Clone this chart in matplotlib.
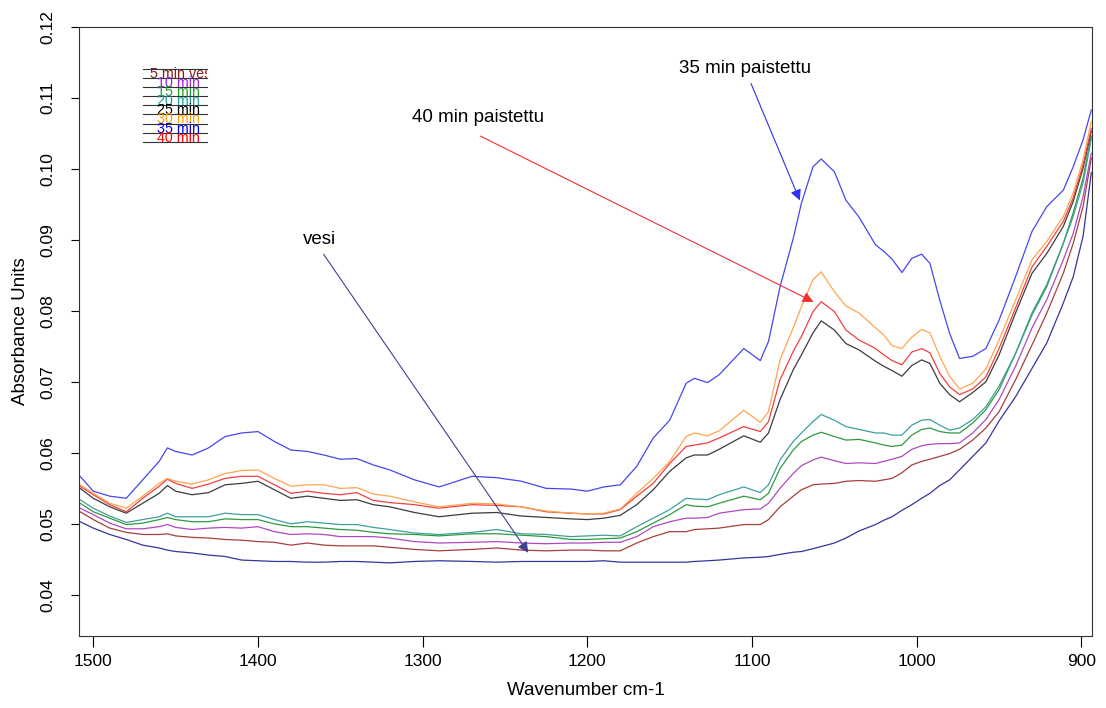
import matplotlib
matplotlib.use("Agg")

import matplotlib.pyplot as plt
from matplotlib.transforms import Bbox, TransformedBbox

plt.rcParams["font.family"] = ["Liberation Sans", "DejaVu Sans"]

# ---------------------------------------------------------------------------
# Spectra (absorbance vs. wavenumber)
# ---------------------------------------------------------------------------
wavenumber = [1508, 1500, 1490, 1480, 1470, 1460, 1455, 1450, 1440, 1430, 1420, 1410, 1400, 1390, 1380, 1370, 1360, 1350, 1340,
              1330, 1320, 1305, 1290, 1270, 1255, 1240, 1225, 1210, 1200, 1190, 1180,
              1170, 1160, 1150, 1140, 1135, 1127, 1120, 1105, 1095, 1090, 1083, 1075, 1070, 1063, 1058, 1050, 1043, 1035,
              1025, 1020, 1015, 1009, 1003, 997, 992, 986, 980, 974, 966, 958, 950, 940, 930, 921, 911, 905, 899, 894]

vesi = [0.0503, 0.0494, 0.0485, 0.0478, 0.0470, 0.0466, 0.0463, 0.0461, 0.0459, 0.0456, 0.0454, 0.0449, 0.0448, 0.0447, 0.0447, 0.0446, 0.0446, 0.0447, 0.0447,
        0.0446, 0.0445, 0.0447, 0.0448, 0.0447, 0.0446, 0.0447, 0.0447, 0.0447, 0.0447, 0.0448, 0.0446,
        0.0446, 0.0446, 0.0446, 0.0446, 0.0447, 0.0448, 0.0449, 0.0452, 0.0453, 0.0454, 0.0457, 0.0460, 0.0461, 0.0465, 0.0468, 0.0473, 0.0480, 0.0490,
        0.0499, 0.0505, 0.0510, 0.0519, 0.0527, 0.0536, 0.0543, 0.0554, 0.0562, 0.0576, 0.0595, 0.0614, 0.0645, 0.0679, 0.0719, 0.0755, 0.0811, 0.0848, 0.0905, 0.0995]

min05 = [0.0517, 0.0506, 0.0494, 0.0488, 0.0485, 0.0485, 0.0486, 0.0483, 0.0481, 0.0480, 0.0478, 0.0477, 0.0475, 0.0474, 0.0470, 0.0473, 0.0470, 0.0469, 0.0469,
         0.0469, 0.0467, 0.0464, 0.0462, 0.0464, 0.0466, 0.0463, 0.0462, 0.0463, 0.0463, 0.0462, 0.0462,
         0.0473, 0.0482, 0.0489, 0.0489, 0.0492, 0.0493, 0.0494, 0.0499, 0.0499, 0.0506, 0.0524, 0.0539, 0.0548, 0.0555, 0.0556, 0.0557, 0.0560, 0.0561,
         0.0560, 0.0562, 0.0564, 0.0572, 0.0583, 0.0588, 0.0591, 0.0595, 0.0599, 0.0605, 0.0618, 0.0635, 0.0658, 0.0703, 0.0752, 0.0797, 0.0853, 0.0895, 0.0947, 0.1015]

min10 = [0.0522, 0.0513, 0.0501, 0.0493, 0.0493, 0.0496, 0.0499, 0.0495, 0.0492, 0.0494, 0.0495, 0.0494, 0.0496, 0.0489, 0.0485, 0.0486, 0.0485, 0.0482, 0.0482,
         0.0482, 0.0480, 0.0475, 0.0473, 0.0474, 0.0475, 0.0473, 0.0472, 0.0473, 0.0473, 0.0474, 0.0474,
         0.0482, 0.0496, 0.0503, 0.0508, 0.0508, 0.0509, 0.0515, 0.0520, 0.0521, 0.0529, 0.0550, 0.0571, 0.0582, 0.0590, 0.0594, 0.0589, 0.0585, 0.0586,
         0.0585, 0.0588, 0.0591, 0.0595, 0.0605, 0.0610, 0.0612, 0.0613, 0.0613, 0.0614, 0.0628, 0.0647, 0.0675, 0.0722, 0.0776, 0.0816, 0.0872, 0.0909, 0.0961, 0.1022]

min15 = [0.0529, 0.0517, 0.0508, 0.0499, 0.0501, 0.0506, 0.0509, 0.0506, 0.0503, 0.0503, 0.0507, 0.0506, 0.0506, 0.0500, 0.0496, 0.0496, 0.0494, 0.0492, 0.0491,
         0.0488, 0.0486, 0.0485, 0.0483, 0.0486, 0.0486, 0.0484, 0.0482, 0.0478, 0.0478, 0.0479, 0.0480,
         0.0489, 0.0501, 0.0513, 0.0527, 0.0525, 0.0524, 0.0529, 0.0539, 0.0534, 0.0543, 0.0578, 0.0604, 0.0616, 0.0625, 0.0629, 0.0623, 0.0618, 0.0619,
         0.0614, 0.0611, 0.0609, 0.0611, 0.0625, 0.0633, 0.0635, 0.0630, 0.0628, 0.0628, 0.0642, 0.0661, 0.0689, 0.0740, 0.0797, 0.0837, 0.0895, 0.0938, 0.0987, 0.1046]

min20 = [0.0534, 0.0522, 0.0511, 0.0502, 0.0506, 0.0510, 0.0515, 0.0510, 0.0510, 0.0510, 0.0515, 0.0513, 0.0513, 0.0506, 0.0500, 0.0503, 0.0501, 0.0499, 0.0499,
         0.0495, 0.0492, 0.0487, 0.0485, 0.0488, 0.0492, 0.0486, 0.0485, 0.0482, 0.0483, 0.0484, 0.0483,
         0.0496, 0.0508, 0.0520, 0.0536, 0.0535, 0.0534, 0.0541, 0.0552, 0.0544, 0.0555, 0.0590, 0.0616, 0.0628, 0.0644, 0.0654, 0.0646, 0.0637, 0.0633,
         0.0628, 0.0628, 0.0625, 0.0625, 0.0639, 0.0646, 0.0647, 0.0639, 0.0632, 0.0635, 0.0647, 0.0665, 0.0694, 0.0740, 0.0794, 0.0834, 0.0895, 0.0933, 0.0980, 0.1043]

min25 = [0.0550, 0.0536, 0.0524, 0.0515, 0.0529, 0.0543, 0.0554, 0.0546, 0.0541, 0.0544, 0.0555, 0.0557, 0.0560, 0.0548, 0.0536, 0.0539, 0.0536, 0.0533, 0.0534,
         0.0527, 0.0524, 0.0516, 0.0510, 0.0515, 0.0516, 0.0511, 0.0509, 0.0507, 0.0506, 0.0508, 0.0512,
         0.0527, 0.0548, 0.0574, 0.0593, 0.0597, 0.0597, 0.0605, 0.0624, 0.0615, 0.0628, 0.0675, 0.0717, 0.0738, 0.0769, 0.0786, 0.0773, 0.0754, 0.0745,
         0.0729, 0.0722, 0.0716, 0.0708, 0.0723, 0.0731, 0.0726, 0.0698, 0.0682, 0.0672, 0.0685, 0.0700, 0.0738, 0.0797, 0.0853, 0.0881, 0.0919, 0.0954, 0.1001, 0.1053]

min30 = [0.0555, 0.0543, 0.0529, 0.0522, 0.0539, 0.0557, 0.0564, 0.0560, 0.0556, 0.0562, 0.0571, 0.0575, 0.0576, 0.0564, 0.0553, 0.0555, 0.0555, 0.0550, 0.0551,
         0.0542, 0.0539, 0.0531, 0.0524, 0.0529, 0.0528, 0.0524, 0.0518, 0.0515, 0.0514, 0.0515, 0.0521,
         0.0543, 0.0564, 0.0588, 0.0623, 0.0628, 0.0624, 0.0631, 0.0660, 0.0643, 0.0658, 0.0731, 0.0776, 0.0806, 0.0844, 0.0855, 0.0827, 0.0807, 0.0797,
         0.0776, 0.0766, 0.0751, 0.0747, 0.0763, 0.0774, 0.0769, 0.0736, 0.0708, 0.0690, 0.0698, 0.0718, 0.0759, 0.0815, 0.0872, 0.0898, 0.0933, 0.0966, 0.1013, 0.1067]

min35 = [0.0567, 0.0546, 0.0539, 0.0536, 0.0562, 0.0588, 0.0607, 0.0602, 0.0597, 0.0607, 0.0623, 0.0628, 0.0630, 0.0616, 0.0604, 0.0602, 0.0597, 0.0591, 0.0592,
         0.0583, 0.0576, 0.0562, 0.0552, 0.0567, 0.0565, 0.0560, 0.0550, 0.0549, 0.0546, 0.0552, 0.0555,
         0.0581, 0.0621, 0.0646, 0.0698, 0.0705, 0.0699, 0.0710, 0.0747, 0.0730, 0.0757, 0.0834, 0.0902, 0.0952, 0.1003, 0.1014, 0.0996, 0.0956, 0.0932,
         0.0893, 0.0884, 0.0873, 0.0854, 0.0874, 0.0880, 0.0867, 0.0815, 0.0768, 0.0733, 0.0736, 0.0747, 0.0787, 0.0848, 0.0912, 0.0947, 0.0970, 0.1003, 0.1041, 0.1083]

min40 = [0.0553, 0.0541, 0.0527, 0.0517, 0.0536, 0.0553, 0.0563, 0.0557, 0.0550, 0.0556, 0.0564, 0.0567, 0.0567, 0.0555, 0.0543, 0.0546, 0.0543, 0.0541, 0.0544,
         0.0533, 0.0530, 0.0527, 0.0522, 0.0527, 0.0526, 0.0524, 0.0517, 0.0515, 0.0514, 0.0514, 0.0520,
         0.0539, 0.0557, 0.0585, 0.0609, 0.0611, 0.0614, 0.0621, 0.0637, 0.0630, 0.0644, 0.0703, 0.0743, 0.0764, 0.0799, 0.0813, 0.0799, 0.0773, 0.0759,
         0.0747, 0.0738, 0.0730, 0.0724, 0.0742, 0.0747, 0.0741, 0.0712, 0.0693, 0.0682, 0.0690, 0.0707, 0.0747, 0.0804, 0.0862, 0.0891, 0.0926, 0.0959, 0.1006, 0.1057]

legend_labels = ["5 min vesi", "10 min", "15 min", "20 min", "25 min", "30 min", "35 min", "40 min"]
legend_colors = ["#8b1a1a", "#a020f0", "#22a022", "#20a0a0", "#000000", "#ffa500", "#0000ff", "#ff0000"]

y_ticks = [0.04, 0.05, 0.06, 0.07, 0.08, 0.09, 0.10, 0.11, 0.12]
x_ticks = [1500, 1400, 1300, 1200, 1100, 1000, 900]

# ---------------------------------------------------------------------------
# Figure
# ---------------------------------------------------------------------------
fig = plt.figure(figsize=(11.06, 7.08), dpi=100)
ax = fig.add_axes([0.0714, 0.1017, 0.9159, 0.8602])

curves = [
    (vesi,  "#35359a"),
    (min05, "#a5403a"),
    (min10, "#b048c0"),
    (min15, "#2e9a3e"),
    (min20, "#3f9f9f"),
    (min25, "#3c3c3c"),
    (min40, "#f04040"),
    (min30, "#ffa54f"),
    (min35, "#4646f0"),
]
for vals, col in curves:
    ax.plot(wavenumber, vals, color=col, lw=0.9)

ax.set_xlim(1508.7, 893.6)
ax.set_ylim(0.0342, 0.12)
ax.set_xticks(x_ticks)
ax.set_xticklabels([str(t) for t in x_ticks], fontsize=12.5)
ax.set_yticks(y_ticks)
ax.set_yticklabels([f"{t:.2f}" for t in y_ticks], fontsize=12.5, rotation=90, va="center")
ax.tick_params(axis="x", length=8, pad=5, width=0.8)
ax.tick_params(axis="y", length=6, pad=11, width=0.8)
for s in ax.spines.values():
    s.set_linewidth(0.8)
    s.set_color("#333333")

ax.set_xlabel("Wavenumber cm-1", fontsize=13.5)
ax.set_ylabel("Absorbance Units", fontsize=13.5)
ax.xaxis.set_label_coords(0.5, -0.076)
ax.yaxis.set_label_coords(-0.049, 0.5)

# ── Annotations with arrows ──────────────────────────────────────────────────
ax.text(1104, 0.1141, "35 min paistettu", fontsize=13.5, ha="center", va="center")
ax.annotate("", xy=(1070.3, 0.0952), xytext=(1101.3, 0.1124),
            arrowprops=dict(arrowstyle="-|>", color="#3030f0", lw=0.8, mutation_scale=16))

ax.text(1266.4, 0.1072, "40 min paistettu", fontsize=13.5, ha="center", va="center")
ax.annotate("", xy=(1061.2, 0.0811), xytext=(1266.4, 0.1048),
            arrowprops=dict(arrowstyle="-|>", color="#f03030", lw=0.8, mutation_scale=16))

ax.text(1362.9, 0.0900, "vesi", fontsize=13.5, ha="center", va="center")
ax.annotate("", xy=(1234.9, 0.0456), xytext=(1361.1, 0.0883),
            arrowprops=dict(arrowstyle="-|>", color="#404090", lw=0.8, mutation_scale=16))

# ── R-style legend (text overlaid on lines, clipped on the right) ────────────
lx0, lx1 = 0.0632, 0.1264
clip_box = TransformedBbox(Bbox([[lx0, 0.0], [lx1, 1.0]]), ax.transAxes)
row_h = 9.1 / 609
top = 1 - (69 - 27) / 609
for k in range(len(legend_labels) + 1):
    yk = top - k * row_h
    ax.plot([lx0, lx1], [yk, yk], transform=ax.transAxes, color="#333333", lw=0.8)
for i, (lab, col) in enumerate(zip(legend_labels, legend_colors)):
    yi = top - (i + 0.55) * row_h
    xi = 0.0701 if i == 0 else 0.0770
    t = ax.text(xi, yi, lab, color=col, fontsize=10.3, ha="left", va="center",
                transform=ax.transAxes)
    t.set_clip_path(None)
    t.set_clip_box(clip_box)
    t.set_clip_on(True)

fig.savefig("out.png", dpi=100, facecolor="white")
